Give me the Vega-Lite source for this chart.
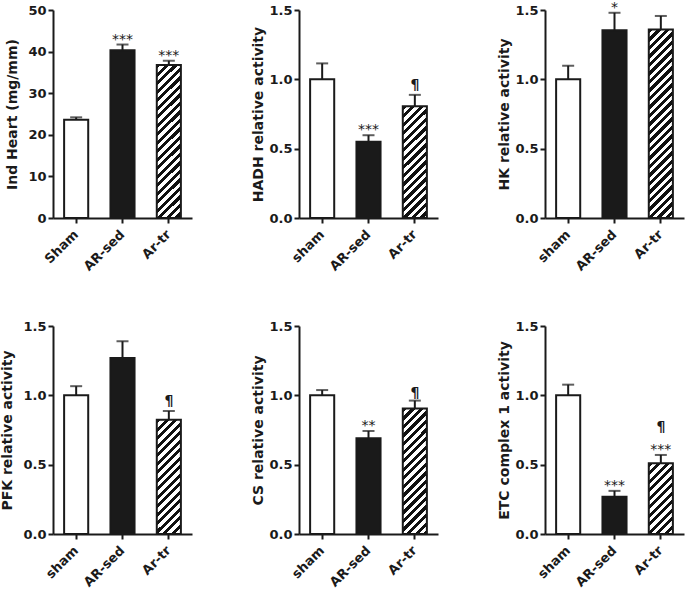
{
"$schema": "https://vega.github.io/schema/vega-lite/v6.json",
"background": "white",
"padding": {"left": 0, "top": 0, "right": 2, "bottom": 0},
"bounds": "flush",
"spacing": {"row": 108, "column": 107},
"columns": 3,
"config": {
  "view": {"stroke": null},
  "axis": {"domainColor": "#1a1a1a", "domainWidth": 2, "tickColor": "#1a1a1a", "tickWidth": 2, "tickSize": 5, "grid": false,
    "labelFont": "DejaVu Sans", "labelFontWeight": "bold", "labelFontSize": 13, "labelColor": "#1a1a1a", "labelPadding": 2,
    "titleFont": "DejaVu Sans", "titleFontWeight": "bold", "titleFontSize": 14, "titleColor": "#1a1a1a", "titlePadding": 3},
  "axisX": {"labelBaseline": "middle", "labelPadding": 9},
  "text": {"font": "DejaVu Sans", "fill": "#1a1a1a"}
},
"data": {"values": [
  {"panel": "heart", "group": "Sham", "mean": 23.6, "hi": 24.2, "star": "", "para": ""},
  {"panel": "heart", "group": "AR-sed", "mean": 40.3, "hi": 41.7, "star": "***", "para": ""},
  {"panel": "heart", "group": "Ar-tr", "mean": 36.8, "hi": 37.8, "star": "***", "para": ""},
  {"panel": "hadh", "group": "sham", "mean": 1.0, "hi": 1.115, "star": "", "para": ""},
  {"panel": "hadh", "group": "AR-sed", "mean": 0.55, "hi": 0.597, "star": "***", "para": ""},
  {"panel": "hadh", "group": "Ar-tr", "mean": 0.805, "hi": 0.888, "star": "", "para": "¶"},
  {"panel": "hk", "group": "sham", "mean": 1.0, "hi": 1.098, "star": "", "para": ""},
  {"panel": "hk", "group": "AR-sed", "mean": 1.354, "hi": 1.48, "star": "*", "para": ""},
  {"panel": "hk", "group": "Ar-tr", "mean": 1.359, "hi": 1.457, "star": "", "para": ""},
  {"panel": "pfk", "group": "sham", "mean": 1.0, "hi": 1.066, "star": "", "para": ""},
  {"panel": "pfk", "group": "AR-sed", "mean": 1.27, "hi": 1.39, "star": "", "para": ""},
  {"panel": "pfk", "group": "Ar-tr", "mean": 0.824, "hi": 0.887, "star": "", "para": "¶"},
  {"panel": "cs", "group": "sham", "mean": 1.0, "hi": 1.038, "star": "", "para": ""},
  {"panel": "cs", "group": "AR-sed", "mean": 0.69, "hi": 0.743, "star": "**", "para": ""},
  {"panel": "cs", "group": "Ar-tr", "mean": 0.905, "hi": 0.962, "star": "", "para": "¶"},
  {"panel": "etc", "group": "sham", "mean": 1.0, "hi": 1.077, "star": "", "para": ""},
  {"panel": "etc", "group": "AR-sed", "mean": 0.268, "hi": 0.311, "star": "***", "para": ""},
  {"panel": "etc", "group": "Ar-tr", "mean": 0.51, "hi": 0.57, "star": "***", "para": "¶"}
]},
"concat": [
{
  "width": 139, "height": 208,
  "transform": [{"filter": "datum.panel === 'heart'"}],
  "encoding": {
    "x": {"field": "group", "type": "nominal", "sort": null, "scale": {"paddingInner": 0.48, "paddingOuter": 0.24}, "axis": {"title": null, "labelAngle": -45}},
    "y": {"field": "mean", "type": "quantitative", "scale": {"domain": [0, 50], "nice": false}, "axis": {"title": "Ind Heart (mg/mm)", "titlePadding": 8, "values": [0, 10, 20, 30, 40, 50]}}
  },
  "layer": [
    {"mark": {"type": "bar", "fill": {"gradient": "linear", "x1": 0, "y1": 0, "x2": 0.2124, "y2": 1.3547, "stops": [
      {"offset":0,"color":"#111"},{"offset":0.02,"color":"#111"},{"offset":0.02,"color":"#fff"},{"offset":0.04,"color":"#fff"},
      {"offset":0.04,"color":"#111"},{"offset":0.06,"color":"#111"},{"offset":0.06,"color":"#fff"},{"offset":0.08,"color":"#fff"},
      {"offset":0.08,"color":"#111"},{"offset":0.1,"color":"#111"},{"offset":0.1,"color":"#fff"},{"offset":0.12,"color":"#fff"},
      {"offset":0.12,"color":"#111"},{"offset":0.14,"color":"#111"},{"offset":0.14,"color":"#fff"},{"offset":0.16,"color":"#fff"},
      {"offset":0.16,"color":"#111"},{"offset":0.18,"color":"#111"},{"offset":0.18,"color":"#fff"},{"offset":0.2,"color":"#fff"},
      {"offset":0.2,"color":"#111"},{"offset":0.22,"color":"#111"},{"offset":0.22,"color":"#fff"},{"offset":0.24,"color":"#fff"},
      {"offset":0.24,"color":"#111"},{"offset":0.26,"color":"#111"},{"offset":0.26,"color":"#fff"},{"offset":0.28,"color":"#fff"},
      {"offset":0.28,"color":"#111"},{"offset":0.3,"color":"#111"},{"offset":0.3,"color":"#fff"},{"offset":0.32,"color":"#fff"},
      {"offset":0.32,"color":"#111"},{"offset":0.34,"color":"#111"},{"offset":0.34,"color":"#fff"},{"offset":0.36,"color":"#fff"},
      {"offset":0.36,"color":"#111"},{"offset":0.38,"color":"#111"},{"offset":0.38,"color":"#fff"},{"offset":0.4,"color":"#fff"},
      {"offset":0.4,"color":"#111"},{"offset":0.42,"color":"#111"},{"offset":0.42,"color":"#fff"},{"offset":0.44,"color":"#fff"},
      {"offset":0.44,"color":"#111"},{"offset":0.46,"color":"#111"},{"offset":0.46,"color":"#fff"},{"offset":0.48,"color":"#fff"},
      {"offset":0.48,"color":"#111"},{"offset":0.5,"color":"#111"},{"offset":0.5,"color":"#fff"},{"offset":0.52,"color":"#fff"},
      {"offset":0.52,"color":"#111"},{"offset":0.54,"color":"#111"},{"offset":0.54,"color":"#fff"},{"offset":0.56,"color":"#fff"},
      {"offset":0.56,"color":"#111"},{"offset":0.58,"color":"#111"},{"offset":0.58,"color":"#fff"},{"offset":0.6,"color":"#fff"},
      {"offset":0.6,"color":"#111"},{"offset":0.62,"color":"#111"},{"offset":0.62,"color":"#fff"},{"offset":0.64,"color":"#fff"},
      {"offset":0.64,"color":"#111"},{"offset":0.66,"color":"#111"},{"offset":0.66,"color":"#fff"},{"offset":0.68,"color":"#fff"},
      {"offset":0.68,"color":"#111"},{"offset":0.7,"color":"#111"},{"offset":0.7,"color":"#fff"},{"offset":0.72,"color":"#fff"},
      {"offset":0.72,"color":"#111"},{"offset":0.74,"color":"#111"},{"offset":0.74,"color":"#fff"},{"offset":0.76,"color":"#fff"},
      {"offset":0.76,"color":"#111"},{"offset":0.78,"color":"#111"},{"offset":0.78,"color":"#fff"},{"offset":0.8,"color":"#fff"},
      {"offset":0.8,"color":"#111"},{"offset":0.82,"color":"#111"},{"offset":0.82,"color":"#fff"},{"offset":0.84,"color":"#fff"},
      {"offset":0.84,"color":"#111"},{"offset":0.86,"color":"#111"},{"offset":0.86,"color":"#fff"},{"offset":0.88,"color":"#fff"},
      {"offset":0.88,"color":"#111"},{"offset":0.9,"color":"#111"},{"offset":0.9,"color":"#fff"},{"offset":0.92,"color":"#fff"},
      {"offset":0.92,"color":"#111"},{"offset":0.94,"color":"#111"},{"offset":0.94,"color":"#fff"},{"offset":0.96,"color":"#fff"},
      {"offset":0.96,"color":"#111"},{"offset":0.98,"color":"#111"},{"offset":0.98,"color":"#fff"},{"offset":1,"color":"#fff"}]}}},
    {"mark": {"type": "bar", "stroke": "#1a1a1a", "strokeWidth": 2},
     "encoding": {"fill": {"condition": [{"test": "datum.group === 'Ar-tr'", "value": "transparent"}, {"test": "datum.group === 'AR-sed'", "value": "#1a1a1a"}], "value": "white"}}},
    {"mark": {"type": "rule", "strokeWidth": 2, "color": "#1a1a1a"}, "encoding": {"y2": {"field": "hi"}}},
    {"mark": {"type": "tick", "orient": "horizontal", "size": 12, "thickness": 2, "color": "#1a1a1a"}, "encoding": {"y": {"field": "hi", "type": "quantitative"}}},
    {"mark": {"type": "text", "baseline": "alphabetic", "dy": -1, "fontSize": 14, "fill": "#1a1a1a"}, "encoding": {"y": {"field": "hi", "type": "quantitative"}, "text": {"field": "star"}}}
  ]
},
{
  "width": 139, "height": 208,
  "transform": [{"filter": "datum.panel === 'hadh'"}],
  "encoding": {
    "x": {"field": "group", "type": "nominal", "sort": null, "scale": {"paddingInner": 0.48, "paddingOuter": 0.24}, "axis": {"title": null, "labelAngle": -45}},
    "y": {"field": "mean", "type": "quantitative", "scale": {"domain": [0, 1.5], "nice": false}, "axis": {"title": "HADH relative activity", "values": [0, 0.5, 1, 1.5], "format": ".1f"}}
  },
  "layer": [
    {"mark": {"type": "bar", "fill": {"gradient": "linear", "x1": 0, "y1": 0, "x2": 0.3137, "y2": 1.4572, "stops": [
      {"offset":0,"color":"#111"},{"offset":0.025,"color":"#111"},{"offset":0.025,"color":"#fff"},{"offset":0.05,"color":"#fff"},
      {"offset":0.05,"color":"#111"},{"offset":0.075,"color":"#111"},{"offset":0.075,"color":"#fff"},{"offset":0.1,"color":"#fff"},
      {"offset":0.1,"color":"#111"},{"offset":0.125,"color":"#111"},{"offset":0.125,"color":"#fff"},{"offset":0.15,"color":"#fff"},
      {"offset":0.15,"color":"#111"},{"offset":0.175,"color":"#111"},{"offset":0.175,"color":"#fff"},{"offset":0.2,"color":"#fff"},
      {"offset":0.2,"color":"#111"},{"offset":0.225,"color":"#111"},{"offset":0.225,"color":"#fff"},{"offset":0.25,"color":"#fff"},
      {"offset":0.25,"color":"#111"},{"offset":0.275,"color":"#111"},{"offset":0.275,"color":"#fff"},{"offset":0.3,"color":"#fff"},
      {"offset":0.3,"color":"#111"},{"offset":0.325,"color":"#111"},{"offset":0.325,"color":"#fff"},{"offset":0.35,"color":"#fff"},
      {"offset":0.35,"color":"#111"},{"offset":0.375,"color":"#111"},{"offset":0.375,"color":"#fff"},{"offset":0.4,"color":"#fff"},
      {"offset":0.4,"color":"#111"},{"offset":0.425,"color":"#111"},{"offset":0.425,"color":"#fff"},{"offset":0.45,"color":"#fff"},
      {"offset":0.45,"color":"#111"},{"offset":0.475,"color":"#111"},{"offset":0.475,"color":"#fff"},{"offset":0.5,"color":"#fff"},
      {"offset":0.5,"color":"#111"},{"offset":0.525,"color":"#111"},{"offset":0.525,"color":"#fff"},{"offset":0.55,"color":"#fff"},
      {"offset":0.55,"color":"#111"},{"offset":0.575,"color":"#111"},{"offset":0.575,"color":"#fff"},{"offset":0.6,"color":"#fff"},
      {"offset":0.6,"color":"#111"},{"offset":0.625,"color":"#111"},{"offset":0.625,"color":"#fff"},{"offset":0.65,"color":"#fff"},
      {"offset":0.65,"color":"#111"},{"offset":0.675,"color":"#111"},{"offset":0.675,"color":"#fff"},{"offset":0.7,"color":"#fff"},
      {"offset":0.7,"color":"#111"},{"offset":0.725,"color":"#111"},{"offset":0.725,"color":"#fff"},{"offset":0.75,"color":"#fff"},
      {"offset":0.75,"color":"#111"},{"offset":0.775,"color":"#111"},{"offset":0.775,"color":"#fff"},{"offset":0.8,"color":"#fff"},
      {"offset":0.8,"color":"#111"},{"offset":0.825,"color":"#111"},{"offset":0.825,"color":"#fff"},{"offset":0.85,"color":"#fff"},
      {"offset":0.85,"color":"#111"},{"offset":0.875,"color":"#111"},{"offset":0.875,"color":"#fff"},{"offset":0.9,"color":"#fff"},
      {"offset":0.9,"color":"#111"},{"offset":0.925,"color":"#111"},{"offset":0.925,"color":"#fff"},{"offset":0.95,"color":"#fff"},
      {"offset":0.95,"color":"#111"},{"offset":0.975,"color":"#111"},{"offset":0.975,"color":"#fff"},{"offset":1,"color":"#fff"}]}}},
    {"mark": {"type": "bar", "stroke": "#1a1a1a", "strokeWidth": 2},
     "encoding": {"fill": {"condition": [{"test": "datum.group === 'Ar-tr'", "value": "transparent"}, {"test": "datum.group === 'AR-sed'", "value": "#1a1a1a"}], "value": "white"}}},
    {"mark": {"type": "rule", "strokeWidth": 2, "color": "#1a1a1a"}, "encoding": {"y2": {"field": "hi"}}},
    {"mark": {"type": "tick", "orient": "horizontal", "size": 12, "thickness": 2, "color": "#1a1a1a"}, "encoding": {"y": {"field": "hi", "type": "quantitative"}}},
    {"mark": {"type": "text", "baseline": "alphabetic", "dy": -1, "fontSize": 14, "fill": "#1a1a1a"}, "encoding": {"y": {"field": "hi", "type": "quantitative"}, "text": {"field": "star"}}},
    {"mark": {"type": "text", "baseline": "alphabetic", "dy": -6, "fontSize": 14, "fontWeight": "bold", "fill": "#1a1a1a"}, "encoding": {"y": {"field": "hi", "type": "quantitative"}, "text": {"field": "para"}}}
  ]
},
{
  "width": 139, "height": 208,
  "transform": [{"filter": "datum.panel === 'hk'"}],
  "encoding": {
    "x": {"field": "group", "type": "nominal", "sort": null, "scale": {"paddingInner": 0.48, "paddingOuter": 0.24}, "axis": {"title": null, "labelAngle": -45}},
    "y": {"field": "mean", "type": "quantitative", "scale": {"domain": [0, 1.5], "nice": false}, "axis": {"title": "HK relative activity", "values": [0, 0.5, 1, 1.5], "format": ".1f"}}
  },
  "layer": [
    {"mark": {"type": "bar", "fill": {"gradient": "linear", "x1": 0, "y1": 0, "x2": 0.1414, "y2": 1.1099, "stops": [
      {"offset":0,"color":"#111"},{"offset":0.02,"color":"#111"},{"offset":0.02,"color":"#fff"},{"offset":0.04,"color":"#fff"},
      {"offset":0.04,"color":"#111"},{"offset":0.06,"color":"#111"},{"offset":0.06,"color":"#fff"},{"offset":0.08,"color":"#fff"},
      {"offset":0.08,"color":"#111"},{"offset":0.1,"color":"#111"},{"offset":0.1,"color":"#fff"},{"offset":0.12,"color":"#fff"},
      {"offset":0.12,"color":"#111"},{"offset":0.14,"color":"#111"},{"offset":0.14,"color":"#fff"},{"offset":0.16,"color":"#fff"},
      {"offset":0.16,"color":"#111"},{"offset":0.18,"color":"#111"},{"offset":0.18,"color":"#fff"},{"offset":0.2,"color":"#fff"},
      {"offset":0.2,"color":"#111"},{"offset":0.22,"color":"#111"},{"offset":0.22,"color":"#fff"},{"offset":0.24,"color":"#fff"},
      {"offset":0.24,"color":"#111"},{"offset":0.26,"color":"#111"},{"offset":0.26,"color":"#fff"},{"offset":0.28,"color":"#fff"},
      {"offset":0.28,"color":"#111"},{"offset":0.3,"color":"#111"},{"offset":0.3,"color":"#fff"},{"offset":0.32,"color":"#fff"},
      {"offset":0.32,"color":"#111"},{"offset":0.34,"color":"#111"},{"offset":0.34,"color":"#fff"},{"offset":0.36,"color":"#fff"},
      {"offset":0.36,"color":"#111"},{"offset":0.38,"color":"#111"},{"offset":0.38,"color":"#fff"},{"offset":0.4,"color":"#fff"},
      {"offset":0.4,"color":"#111"},{"offset":0.42,"color":"#111"},{"offset":0.42,"color":"#fff"},{"offset":0.44,"color":"#fff"},
      {"offset":0.44,"color":"#111"},{"offset":0.46,"color":"#111"},{"offset":0.46,"color":"#fff"},{"offset":0.48,"color":"#fff"},
      {"offset":0.48,"color":"#111"},{"offset":0.5,"color":"#111"},{"offset":0.5,"color":"#fff"},{"offset":0.52,"color":"#fff"},
      {"offset":0.52,"color":"#111"},{"offset":0.54,"color":"#111"},{"offset":0.54,"color":"#fff"},{"offset":0.56,"color":"#fff"},
      {"offset":0.56,"color":"#111"},{"offset":0.58,"color":"#111"},{"offset":0.58,"color":"#fff"},{"offset":0.6,"color":"#fff"},
      {"offset":0.6,"color":"#111"},{"offset":0.62,"color":"#111"},{"offset":0.62,"color":"#fff"},{"offset":0.64,"color":"#fff"},
      {"offset":0.64,"color":"#111"},{"offset":0.66,"color":"#111"},{"offset":0.66,"color":"#fff"},{"offset":0.68,"color":"#fff"},
      {"offset":0.68,"color":"#111"},{"offset":0.7,"color":"#111"},{"offset":0.7,"color":"#fff"},{"offset":0.72,"color":"#fff"},
      {"offset":0.72,"color":"#111"},{"offset":0.74,"color":"#111"},{"offset":0.74,"color":"#fff"},{"offset":0.76,"color":"#fff"},
      {"offset":0.76,"color":"#111"},{"offset":0.78,"color":"#111"},{"offset":0.78,"color":"#fff"},{"offset":0.8,"color":"#fff"},
      {"offset":0.8,"color":"#111"},{"offset":0.82,"color":"#111"},{"offset":0.82,"color":"#fff"},{"offset":0.84,"color":"#fff"},
      {"offset":0.84,"color":"#111"},{"offset":0.86,"color":"#111"},{"offset":0.86,"color":"#fff"},{"offset":0.88,"color":"#fff"},
      {"offset":0.88,"color":"#111"},{"offset":0.9,"color":"#111"},{"offset":0.9,"color":"#fff"},{"offset":0.92,"color":"#fff"},
      {"offset":0.92,"color":"#111"},{"offset":0.94,"color":"#111"},{"offset":0.94,"color":"#fff"},{"offset":0.96,"color":"#fff"},
      {"offset":0.96,"color":"#111"},{"offset":0.98,"color":"#111"},{"offset":0.98,"color":"#fff"},{"offset":1,"color":"#fff"}]}}},
    {"mark": {"type": "bar", "stroke": "#1a1a1a", "strokeWidth": 2},
     "encoding": {"fill": {"condition": [{"test": "datum.group === 'Ar-tr'", "value": "transparent"}, {"test": "datum.group === 'AR-sed'", "value": "#1a1a1a"}], "value": "white"}}},
    {"mark": {"type": "rule", "strokeWidth": 2, "color": "#1a1a1a"}, "encoding": {"y2": {"field": "hi"}}},
    {"mark": {"type": "tick", "orient": "horizontal", "size": 12, "thickness": 2, "color": "#1a1a1a"}, "encoding": {"y": {"field": "hi", "type": "quantitative"}}},
    {"mark": {"type": "text", "baseline": "alphabetic", "dy": -1, "fontSize": 14, "fill": "#1a1a1a"}, "encoding": {"y": {"field": "hi", "type": "quantitative"}, "text": {"field": "star"}}}
  ]
},
{
  "width": 139, "height": 208,
  "transform": [{"filter": "datum.panel === 'pfk'"}],
  "encoding": {
    "x": {"field": "group", "type": "nominal", "sort": null, "scale": {"paddingInner": 0.48, "paddingOuter": 0.24}, "axis": {"title": null, "labelAngle": -45}},
    "y": {"field": "mean", "type": "quantitative", "scale": {"domain": [0, 1.5], "nice": false}, "axis": {"title": "PFK relative activity", "titlePadding": 8, "values": [0, 0.5, 1, 1.5], "format": ".1f"}}
  },
  "layer": [
    {"mark": {"type": "bar", "fill": {"gradient": "linear", "x1": 0, "y1": 0, "x2": 0.2991, "y2": 1.4245, "stops": [
      {"offset":0,"color":"#111"},{"offset":0.025,"color":"#111"},{"offset":0.025,"color":"#fff"},{"offset":0.05,"color":"#fff"},
      {"offset":0.05,"color":"#111"},{"offset":0.075,"color":"#111"},{"offset":0.075,"color":"#fff"},{"offset":0.1,"color":"#fff"},
      {"offset":0.1,"color":"#111"},{"offset":0.125,"color":"#111"},{"offset":0.125,"color":"#fff"},{"offset":0.15,"color":"#fff"},
      {"offset":0.15,"color":"#111"},{"offset":0.175,"color":"#111"},{"offset":0.175,"color":"#fff"},{"offset":0.2,"color":"#fff"},
      {"offset":0.2,"color":"#111"},{"offset":0.225,"color":"#111"},{"offset":0.225,"color":"#fff"},{"offset":0.25,"color":"#fff"},
      {"offset":0.25,"color":"#111"},{"offset":0.275,"color":"#111"},{"offset":0.275,"color":"#fff"},{"offset":0.3,"color":"#fff"},
      {"offset":0.3,"color":"#111"},{"offset":0.325,"color":"#111"},{"offset":0.325,"color":"#fff"},{"offset":0.35,"color":"#fff"},
      {"offset":0.35,"color":"#111"},{"offset":0.375,"color":"#111"},{"offset":0.375,"color":"#fff"},{"offset":0.4,"color":"#fff"},
      {"offset":0.4,"color":"#111"},{"offset":0.425,"color":"#111"},{"offset":0.425,"color":"#fff"},{"offset":0.45,"color":"#fff"},
      {"offset":0.45,"color":"#111"},{"offset":0.475,"color":"#111"},{"offset":0.475,"color":"#fff"},{"offset":0.5,"color":"#fff"},
      {"offset":0.5,"color":"#111"},{"offset":0.525,"color":"#111"},{"offset":0.525,"color":"#fff"},{"offset":0.55,"color":"#fff"},
      {"offset":0.55,"color":"#111"},{"offset":0.575,"color":"#111"},{"offset":0.575,"color":"#fff"},{"offset":0.6,"color":"#fff"},
      {"offset":0.6,"color":"#111"},{"offset":0.625,"color":"#111"},{"offset":0.625,"color":"#fff"},{"offset":0.65,"color":"#fff"},
      {"offset":0.65,"color":"#111"},{"offset":0.675,"color":"#111"},{"offset":0.675,"color":"#fff"},{"offset":0.7,"color":"#fff"},
      {"offset":0.7,"color":"#111"},{"offset":0.725,"color":"#111"},{"offset":0.725,"color":"#fff"},{"offset":0.75,"color":"#fff"},
      {"offset":0.75,"color":"#111"},{"offset":0.775,"color":"#111"},{"offset":0.775,"color":"#fff"},{"offset":0.8,"color":"#fff"},
      {"offset":0.8,"color":"#111"},{"offset":0.825,"color":"#111"},{"offset":0.825,"color":"#fff"},{"offset":0.85,"color":"#fff"},
      {"offset":0.85,"color":"#111"},{"offset":0.875,"color":"#111"},{"offset":0.875,"color":"#fff"},{"offset":0.9,"color":"#fff"},
      {"offset":0.9,"color":"#111"},{"offset":0.925,"color":"#111"},{"offset":0.925,"color":"#fff"},{"offset":0.95,"color":"#fff"},
      {"offset":0.95,"color":"#111"},{"offset":0.975,"color":"#111"},{"offset":0.975,"color":"#fff"},{"offset":1,"color":"#fff"}]}}},
    {"mark": {"type": "bar", "stroke": "#1a1a1a", "strokeWidth": 2},
     "encoding": {"fill": {"condition": [{"test": "datum.group === 'Ar-tr'", "value": "transparent"}, {"test": "datum.group === 'AR-sed'", "value": "#1a1a1a"}], "value": "white"}}},
    {"mark": {"type": "rule", "strokeWidth": 2, "color": "#1a1a1a"}, "encoding": {"y2": {"field": "hi"}}},
    {"mark": {"type": "tick", "orient": "horizontal", "size": 12, "thickness": 2, "color": "#1a1a1a"}, "encoding": {"y": {"field": "hi", "type": "quantitative"}}},
    {"mark": {"type": "text", "baseline": "alphabetic", "dy": -6, "fontSize": 14, "fontWeight": "bold", "fill": "#1a1a1a"}, "encoding": {"y": {"field": "hi", "type": "quantitative"}, "text": {"field": "para"}}}
  ]
},
{
  "width": 139, "height": 208,
  "transform": [{"filter": "datum.panel === 'cs'"}],
  "encoding": {
    "x": {"field": "group", "type": "nominal", "sort": null, "scale": {"paddingInner": 0.48, "paddingOuter": 0.24}, "axis": {"title": null, "labelAngle": -45}},
    "y": {"field": "mean", "type": "quantitative", "scale": {"domain": [0, 1.5], "nice": false}, "axis": {"title": "CS relative activity", "values": [0, 0.5, 1, 1.5], "format": ".1f"}}
  },
  "layer": [
    {"mark": {"type": "bar", "fill": {"gradient": "linear", "x1": 0, "y1": 0, "x2": 0.2526, "y2": 1.3136, "stops": [
      {"offset":0,"color":"#111"},{"offset":0.025,"color":"#111"},{"offset":0.025,"color":"#fff"},{"offset":0.05,"color":"#fff"},
      {"offset":0.05,"color":"#111"},{"offset":0.075,"color":"#111"},{"offset":0.075,"color":"#fff"},{"offset":0.1,"color":"#fff"},
      {"offset":0.1,"color":"#111"},{"offset":0.125,"color":"#111"},{"offset":0.125,"color":"#fff"},{"offset":0.15,"color":"#fff"},
      {"offset":0.15,"color":"#111"},{"offset":0.175,"color":"#111"},{"offset":0.175,"color":"#fff"},{"offset":0.2,"color":"#fff"},
      {"offset":0.2,"color":"#111"},{"offset":0.225,"color":"#111"},{"offset":0.225,"color":"#fff"},{"offset":0.25,"color":"#fff"},
      {"offset":0.25,"color":"#111"},{"offset":0.275,"color":"#111"},{"offset":0.275,"color":"#fff"},{"offset":0.3,"color":"#fff"},
      {"offset":0.3,"color":"#111"},{"offset":0.325,"color":"#111"},{"offset":0.325,"color":"#fff"},{"offset":0.35,"color":"#fff"},
      {"offset":0.35,"color":"#111"},{"offset":0.375,"color":"#111"},{"offset":0.375,"color":"#fff"},{"offset":0.4,"color":"#fff"},
      {"offset":0.4,"color":"#111"},{"offset":0.425,"color":"#111"},{"offset":0.425,"color":"#fff"},{"offset":0.45,"color":"#fff"},
      {"offset":0.45,"color":"#111"},{"offset":0.475,"color":"#111"},{"offset":0.475,"color":"#fff"},{"offset":0.5,"color":"#fff"},
      {"offset":0.5,"color":"#111"},{"offset":0.525,"color":"#111"},{"offset":0.525,"color":"#fff"},{"offset":0.55,"color":"#fff"},
      {"offset":0.55,"color":"#111"},{"offset":0.575,"color":"#111"},{"offset":0.575,"color":"#fff"},{"offset":0.6,"color":"#fff"},
      {"offset":0.6,"color":"#111"},{"offset":0.625,"color":"#111"},{"offset":0.625,"color":"#fff"},{"offset":0.65,"color":"#fff"},
      {"offset":0.65,"color":"#111"},{"offset":0.675,"color":"#111"},{"offset":0.675,"color":"#fff"},{"offset":0.7,"color":"#fff"},
      {"offset":0.7,"color":"#111"},{"offset":0.725,"color":"#111"},{"offset":0.725,"color":"#fff"},{"offset":0.75,"color":"#fff"},
      {"offset":0.75,"color":"#111"},{"offset":0.775,"color":"#111"},{"offset":0.775,"color":"#fff"},{"offset":0.8,"color":"#fff"},
      {"offset":0.8,"color":"#111"},{"offset":0.825,"color":"#111"},{"offset":0.825,"color":"#fff"},{"offset":0.85,"color":"#fff"},
      {"offset":0.85,"color":"#111"},{"offset":0.875,"color":"#111"},{"offset":0.875,"color":"#fff"},{"offset":0.9,"color":"#fff"},
      {"offset":0.9,"color":"#111"},{"offset":0.925,"color":"#111"},{"offset":0.925,"color":"#fff"},{"offset":0.95,"color":"#fff"},
      {"offset":0.95,"color":"#111"},{"offset":0.975,"color":"#111"},{"offset":0.975,"color":"#fff"},{"offset":1,"color":"#fff"}]}}},
    {"mark": {"type": "bar", "stroke": "#1a1a1a", "strokeWidth": 2},
     "encoding": {"fill": {"condition": [{"test": "datum.group === 'Ar-tr'", "value": "transparent"}, {"test": "datum.group === 'AR-sed'", "value": "#1a1a1a"}], "value": "white"}}},
    {"mark": {"type": "rule", "strokeWidth": 2, "color": "#1a1a1a"}, "encoding": {"y2": {"field": "hi"}}},
    {"mark": {"type": "tick", "orient": "horizontal", "size": 12, "thickness": 2, "color": "#1a1a1a"}, "encoding": {"y": {"field": "hi", "type": "quantitative"}}},
    {"mark": {"type": "text", "baseline": "alphabetic", "dy": -1, "fontSize": 14, "fill": "#1a1a1a"}, "encoding": {"y": {"field": "hi", "type": "quantitative"}, "text": {"field": "star"}}},
    {"mark": {"type": "text", "baseline": "alphabetic", "dy": -4, "fontSize": 14, "fontWeight": "bold", "fill": "#1a1a1a"}, "encoding": {"y": {"field": "hi", "type": "quantitative"}, "text": {"field": "para"}}}
  ]
},
{
  "width": 139, "height": 208,
  "transform": [{"filter": "datum.panel === 'etc'"}],
  "encoding": {
    "x": {"field": "group", "type": "nominal", "sort": null, "scale": {"paddingInner": 0.48, "paddingOuter": 0.24}, "axis": {"title": null, "labelAngle": -45}},
    "y": {"field": "mean", "type": "quantitative", "scale": {"domain": [0, 1.5], "nice": false}, "axis": {"title": "ETC complex 1 activity", "values": [0, 0.5, 1, 1.5], "format": ".1f"}}
  },
  "layer": [
    {"mark": {"type": "bar", "fill": {"gradient": "linear", "x1": 0, "y1": 0, "x2": 0.732, "y2": 2.1563, "stops": [
      {"offset":0,"color":"#111"},{"offset":0.025,"color":"#111"},{"offset":0.025,"color":"#fff"},{"offset":0.05,"color":"#fff"},
      {"offset":0.05,"color":"#111"},{"offset":0.075,"color":"#111"},{"offset":0.075,"color":"#fff"},{"offset":0.1,"color":"#fff"},
      {"offset":0.1,"color":"#111"},{"offset":0.125,"color":"#111"},{"offset":0.125,"color":"#fff"},{"offset":0.15,"color":"#fff"},
      {"offset":0.15,"color":"#111"},{"offset":0.175,"color":"#111"},{"offset":0.175,"color":"#fff"},{"offset":0.2,"color":"#fff"},
      {"offset":0.2,"color":"#111"},{"offset":0.225,"color":"#111"},{"offset":0.225,"color":"#fff"},{"offset":0.25,"color":"#fff"},
      {"offset":0.25,"color":"#111"},{"offset":0.275,"color":"#111"},{"offset":0.275,"color":"#fff"},{"offset":0.3,"color":"#fff"},
      {"offset":0.3,"color":"#111"},{"offset":0.325,"color":"#111"},{"offset":0.325,"color":"#fff"},{"offset":0.35,"color":"#fff"},
      {"offset":0.35,"color":"#111"},{"offset":0.375,"color":"#111"},{"offset":0.375,"color":"#fff"},{"offset":0.4,"color":"#fff"},
      {"offset":0.4,"color":"#111"},{"offset":0.425,"color":"#111"},{"offset":0.425,"color":"#fff"},{"offset":0.45,"color":"#fff"},
      {"offset":0.45,"color":"#111"},{"offset":0.475,"color":"#111"},{"offset":0.475,"color":"#fff"},{"offset":0.5,"color":"#fff"},
      {"offset":0.5,"color":"#111"},{"offset":0.525,"color":"#111"},{"offset":0.525,"color":"#fff"},{"offset":0.55,"color":"#fff"},
      {"offset":0.55,"color":"#111"},{"offset":0.575,"color":"#111"},{"offset":0.575,"color":"#fff"},{"offset":0.6,"color":"#fff"},
      {"offset":0.6,"color":"#111"},{"offset":0.625,"color":"#111"},{"offset":0.625,"color":"#fff"},{"offset":0.65,"color":"#fff"},
      {"offset":0.65,"color":"#111"},{"offset":0.675,"color":"#111"},{"offset":0.675,"color":"#fff"},{"offset":0.7,"color":"#fff"},
      {"offset":0.7,"color":"#111"},{"offset":0.725,"color":"#111"},{"offset":0.725,"color":"#fff"},{"offset":0.75,"color":"#fff"},
      {"offset":0.75,"color":"#111"},{"offset":0.775,"color":"#111"},{"offset":0.775,"color":"#fff"},{"offset":0.8,"color":"#fff"},
      {"offset":0.8,"color":"#111"},{"offset":0.825,"color":"#111"},{"offset":0.825,"color":"#fff"},{"offset":0.85,"color":"#fff"},
      {"offset":0.85,"color":"#111"},{"offset":0.875,"color":"#111"},{"offset":0.875,"color":"#fff"},{"offset":0.9,"color":"#fff"},
      {"offset":0.9,"color":"#111"},{"offset":0.925,"color":"#111"},{"offset":0.925,"color":"#fff"},{"offset":0.95,"color":"#fff"},
      {"offset":0.95,"color":"#111"},{"offset":0.975,"color":"#111"},{"offset":0.975,"color":"#fff"},{"offset":1,"color":"#fff"}]}}},
    {"mark": {"type": "bar", "stroke": "#1a1a1a", "strokeWidth": 2},
     "encoding": {"fill": {"condition": [{"test": "datum.group === 'Ar-tr'", "value": "transparent"}, {"test": "datum.group === 'AR-sed'", "value": "#1a1a1a"}], "value": "white"}}},
    {"mark": {"type": "rule", "strokeWidth": 2, "color": "#1a1a1a"}, "encoding": {"y2": {"field": "hi"}}},
    {"mark": {"type": "tick", "orient": "horizontal", "size": 12, "thickness": 2, "color": "#1a1a1a"}, "encoding": {"y": {"field": "hi", "type": "quantitative"}}},
    {"mark": {"type": "text", "baseline": "alphabetic", "dy": -1, "fontSize": 14, "fill": "#1a1a1a"}, "encoding": {"y": {"field": "hi", "type": "quantitative"}, "text": {"field": "star"}}},
    {"mark": {"type": "text", "baseline": "alphabetic", "dy": -24, "fontSize": 14, "fontWeight": "bold", "fill": "#1a1a1a"}, "encoding": {"y": {"field": "hi", "type": "quantitative"}, "text": {"field": "para"}}}
  ]
}
]
}
